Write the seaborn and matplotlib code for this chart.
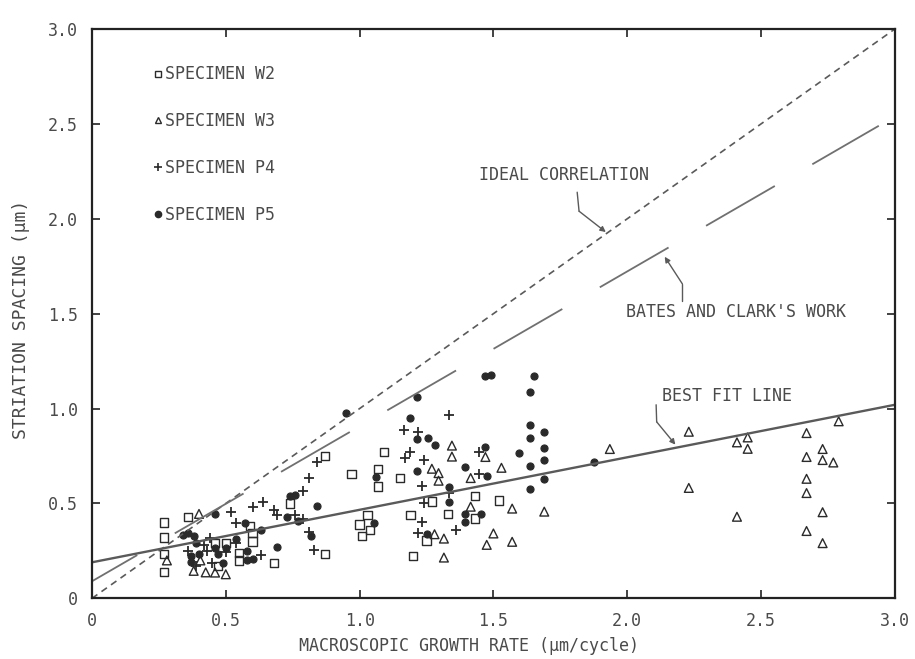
import matplotlib
matplotlib.use("Agg")
import matplotlib.pyplot as plt
import seaborn as sns
from matplotlib.lines import Line2D

# ---------------- data ----------------
w2_x = [0.27, 0.27, 0.27, 0.27, 0.36, 0.46, 0.50, 0.55, 0.47, 0.55, 0.59, 0.60, 0.60, 0.68,
        0.74, 0.87, 0.87, 0.97, 1.07, 1.07, 1.09, 1.15, 1.03, 1.00, 1.04, 1.01, 1.19, 1.20,
        1.27, 1.33, 1.43, 1.43, 1.52, 1.25]
w2_y = [0.40, 0.32, 0.235, 0.14, 0.43, 0.29, 0.29, 0.24, 0.17, 0.20, 0.38, 0.345, 0.30, 0.185,
        0.50, 0.75, 0.235, 0.655, 0.68, 0.59, 0.77, 0.635, 0.44, 0.39, 0.36, 0.33, 0.44, 0.225,
        0.51, 0.445, 0.42, 0.54, 0.515, 0.305]

w3_x = [0.28, 0.40, 0.405, 0.38, 0.425, 0.46, 0.50,
        1.345, 1.345, 1.47, 1.27, 1.295, 1.295, 1.415, 1.53, 1.415, 1.57, 1.69, 1.28, 1.315,
        1.50, 1.475, 1.57, 1.315,
        1.935, 2.23, 2.23, 2.41, 2.45, 2.45, 2.41, 2.67, 2.67, 2.67, 2.67, 2.67, 2.79, 2.73,
        2.73, 2.77, 2.73, 2.73]
w3_y = [0.20, 0.445, 0.20, 0.145, 0.137, 0.136, 0.127,
        0.805, 0.747, 0.745, 0.683, 0.66, 0.62, 0.634, 0.688, 0.483, 0.473, 0.457, 0.338, 0.315,
        0.342, 0.282, 0.298, 0.215,
        0.787, 0.878, 0.582, 0.822, 0.848, 0.788, 0.43, 0.871, 0.745, 0.63, 0.555, 0.355, 0.933,
        0.787, 0.729, 0.716, 0.454, 0.291]

p4_x = [0.42, 0.54, 0.36, 0.43, 0.50, 0.45, 0.39, 0.44, 0.52, 0.54, 0.60, 0.64, 0.68, 0.69,
        0.63, 0.79, 0.81, 0.84, 0.81, 0.83, 0.76, 0.79,
        1.335, 1.165, 1.22, 1.445, 1.17, 1.19, 1.24, 1.445, 1.235, 1.335, 1.24, 1.235, 1.36, 1.22]
p4_y = [0.283, 0.29, 0.252, 0.25, 0.242, 0.188, 0.173, 0.32, 0.456, 0.398, 0.479, 0.506, 0.465,
        0.44, 0.23, 0.568, 0.633, 0.718, 0.35, 0.253, 0.437, 0.417,
        0.967, 0.887, 0.877, 0.773, 0.74, 0.77, 0.73, 0.654, 0.591, 0.554, 0.50, 0.404, 0.361, 0.342]

p5_x = [0.34, 0.36, 0.38, 0.39, 0.50, 0.46, 0.40, 0.47, 0.37, 0.49, 0.37, 0.54, 0.58, 0.58,
        0.60, 0.46, 0.57, 0.63, 0.69, 0.74, 0.76, 0.84, 0.73, 0.77, 0.82, 0.95,
        1.47, 1.49, 1.65, 1.635, 1.215, 1.19, 1.215, 1.255, 1.28, 1.47, 1.595, 1.635, 1.635,
        1.69, 1.69, 1.69, 1.635, 1.69, 1.635, 1.875, 1.215, 1.06, 1.395, 1.475, 1.335, 1.335,
        1.395, 1.455, 1.395, 1.055, 1.25]
p5_y = [0.334, 0.344, 0.329, 0.29, 0.267, 0.267, 0.233, 0.232, 0.19, 0.188, 0.224, 0.311, 0.25,
        0.204, 0.21, 0.443, 0.397, 0.361, 0.272, 0.537, 0.547, 0.486, 0.428, 0.407, 0.328, 0.979,
        1.171, 1.175, 1.172, 1.086, 1.059, 0.948, 0.842, 0.847, 0.808, 0.798, 0.766, 0.914,
        0.847, 0.875, 0.791, 0.729, 0.698, 0.629, 0.577, 0.718, 0.672, 0.642, 0.69, 0.645,
        0.589, 0.507, 0.444, 0.443, 0.401, 0.398, 0.339]

ideal_x = [0.0, 3.0]
ideal_y = [0.0, 3.0]
bates_x = [0.0, 2.94]
bates_y = [0.09, 2.49]
fit_x = [0.0, 3.0]
fit_y = [0.19, 1.02]

tick_vals = [0.0, 0.5, 1.0, 1.5, 2.0, 2.5, 3.0]
tick_labels = ["0", "0.5", "1.0", "1.5", "2.0", "2.5", "3.0"]
legend_labels = ["SPECIMEN W2", "SPECIMEN W3", "SPECIMEN P4", "SPECIMEN P5"]

# ---------------- style ----------------
sns.set_style("ticks")
plt.rcParams["font.family"] = ["DejaVu Sans Mono", "DejaVu Sans"]

MK = "#2a2a2a"
TXT = "#4a4a4a"
LN = "#5a5a5a"

fig, ax = plt.subplots(figsize=(9.15, 6.59), dpi=100)
fig.subplots_adjust(left=0.1005, right=0.978, bottom=0.092, top=0.956)

# reference lines
sns.lineplot(x=ideal_x, y=ideal_y, ax=ax, color=LN, lw=1.2, linestyle=(0, (4, 3)))
sns.lineplot(x=bates_x, y=bates_y, ax=ax, color="#707070", lw=1.3, linestyle=(15, (44, 24)))
sns.lineplot(x=fit_x, y=fit_y, ax=ax, color=LN, lw=1.7)

# scatter series
sns.scatterplot(x=w2_x, y=w2_y, ax=ax, marker="s", s=36, color=MK, edgecolor=MK, linewidth=1.0)
ax.collections[-1].set_facecolor("none")
sns.scatterplot(x=w3_x, y=w3_y, ax=ax, marker="^", s=40, color=MK, edgecolor=MK, linewidth=1.0)
ax.collections[-1].set_facecolor("none")
sns.scatterplot(x=p4_x, y=p4_y, ax=ax, marker="+", s=50, color=MK, linewidth=1.3)
sns.scatterplot(x=p5_x, y=p5_y, ax=ax, marker="o", s=26, color=MK, edgecolor=MK, linewidth=0.8)

# axes
ax.set_xlim(0, 3.0)
ax.set_ylim(0, 3.0)
ax.set_xticks(tick_vals)
ax.set_xticklabels(tick_labels)
ax.set_yticks(tick_vals)
ax.set_yticklabels(tick_labels)
ax.tick_params(direction="in", length=6, width=1.2, top=True, right=True,
               labelsize=12, labelcolor=TXT, color="#222222", pad=10)
for sp in ax.spines.values():
    sp.set_visible(True)
    sp.set_linewidth(1.6)
    sp.set_color("#222222")

ax.set_xlabel("MACROSCOPIC GROWTH RATE (\u03bcm/cycle)", fontsize=12, color=TXT)
ax.set_ylabel("STRIATION SPACING (\u03bcm)", fontsize=13, color=TXT)
ax.xaxis.set_label_coords(0.47, -0.068)
ax.yaxis.set_label_coords(-0.077, 0.49)

# legend (in-plot key)
handles = [
    Line2D([], [], ls="none", marker="s", ms=5, mfc="none", mec=MK, mew=1.0),
    Line2D([], [], ls="none", marker="^", ms=5, mfc="none", mec=MK, mew=1.0),
    Line2D([], [], ls="none", marker="+", ms=6, mec=MK, mew=1.2),
    Line2D([], [], ls="none", marker="o", ms=4.5, mfc=MK, mec=MK),
]
leg = ax.legend(handles, legend_labels, loc="upper left", bbox_to_anchor=(0.0755, 0.936),
                frameon=False, fontsize=12, handlelength=0.6, handletextpad=0.15,
                labelspacing=1.73, borderpad=0, borderaxespad=0)
for t in leg.get_texts():
    t.set_color(TXT)

# annotations
ax.text(1.447, 2.23, "IDEAL CORRELATION", fontsize=12, color=TXT, va="center", ha="left")
ax.plot([1.813, 1.82], [2.14, 2.04], color=LN, lw=1.0)
ax.annotate("", xy=(1.92, 1.93), xytext=(1.82, 2.04),
            arrowprops=dict(arrowstyle="-|>", color=LN, lw=1.0, mutation_scale=8,
                            shrinkA=0, shrinkB=0))

ax.text(1.996, 1.51, "BATES AND CLARK'S WORK", fontsize=12, color=TXT, va="center", ha="left")
ax.plot([2.206, 2.206], [1.565, 1.657], color=LN, lw=1.0)
ax.annotate("", xy=(2.14, 1.80), xytext=(2.206, 1.657),
            arrowprops=dict(arrowstyle="-|>", color=LN, lw=1.0, mutation_scale=8,
                            shrinkA=0, shrinkB=0))

ax.text(2.13, 1.064, "BEST FIT LINE", fontsize=12, color=TXT, va="center", ha="left")
ax.plot([2.108, 2.11], [1.02, 0.93], color=LN, lw=1.0)
ax.annotate("", xy=(2.18, 0.81), xytext=(2.11, 0.93),
            arrowprops=dict(arrowstyle="-|>", color=LN, lw=1.0, mutation_scale=8,
                            shrinkA=0, shrinkB=0))

fig.savefig("out.png", dpi=100)
